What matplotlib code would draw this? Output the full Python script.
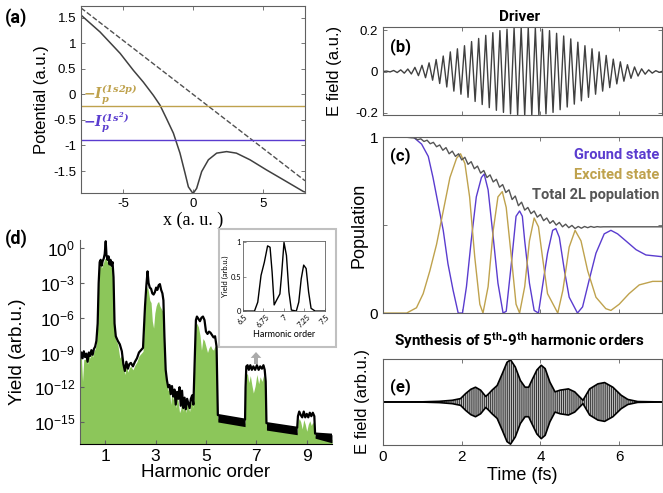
import numpy as np
import matplotlib
matplotlib.use('Agg')
import matplotlib.pyplot as plt
from matplotlib.patches import Rectangle

plt.rcParams['font.family'] = ['Liberation Sans', 'DejaVu Sans']
plt.rcParams['axes.unicode_minus'] = False
plt.rcParams['mathtext.fontset'] = 'custom'
plt.rcParams['mathtext.rm'] = 'Liberation Sans'
plt.rcParams['mathtext.it'] = 'Liberation Sans:italic'
plt.rcParams['mathtext.bf'] = 'Roboto:bold'
plt.rcParams['mathtext.bfit'] = 'DejaVu Serif:italic:bold'
plt.rcParams['hatch.linewidth'] = 0.7

NARROW = ['Roboto', 'DejaVu Sans']
purple = '#5a3ccf'
gold = '#bfa24d'

# ---- (a) potential ----
pot_x = [-8.0, -6.64, -5.2, -4.26, -3.55, -2.83, -2.36, -1.9, -1.4, -0.93, -0.57,
         -0.33, 0.0, 0.26, 0.62, 1.1, 1.69, 2.4, 3.1, 4.07, 5.26, 6.45, 7.88, 8.0]
pot_v = [1.55, 1.22, 0.80, 0.47, 0.24, -0.02, -0.21, -0.47, -0.76, -1.15, -1.54,
         -1.81, -1.94, -1.84, -1.51, -1.28, -1.15, -1.12, -1.15, -1.28, -1.48, -1.67, -1.90, -1.91]
field_x = [-8.0, 8.0]
field_v = [1.69, -1.69]
ip_1s2p = -0.22
ip_1s2 = -0.89

# ---- (b) driver: cycle centres and amplitudes ----
drv_tc = np.array([0.09, 0.27, 0.45, 0.63, 0.81, 0.99, 1.17, 1.35, 1.53, 1.71, 1.89, 2.07, 2.25,
                   2.43, 2.61, 2.79, 2.97, 3.15, 3.33, 3.51, 3.69, 3.87, 4.05, 4.23, 4.41, 4.59,
                   4.77, 4.95, 5.13, 5.31, 5.49, 5.67, 5.85, 6.03, 6.21, 6.39, 6.57, 6.75, 6.93, 7.11])
drv_amp = np.array([0.002, 0.005, 0.008, 0.012, 0.02, 0.03, 0.042, 0.058, 0.075, 0.095, 0.11,
                    0.125, 0.145, 0.16, 0.175, 0.188, 0.198, 0.205, 0.21, 0.213, 0.213, 0.21,
                    0.205, 0.198, 0.185, 0.172, 0.158, 0.142, 0.125, 0.11, 0.095, 0.078, 0.06,
                    0.047, 0.033, 0.022, 0.013, 0.008, 0.004, 0.002])
drv_half = 0.09

# ---- (c) populations ----
gs_t = [0, 0.77, 0.98, 1.15, 1.27, 1.40, 1.53, 1.65, 1.78, 1.91, 2.02, 2.12, 2.24, 2.37, 2.50,
        2.57, 2.67, 2.80, 2.92, 3.05, 3.13, 3.26, 3.38, 3.47, 3.54, 3.60, 3.72, 3.84, 3.95,
        4.05, 4.18, 4.31, 4.39, 4.48, 4.61, 4.73, 4.94, 5.07, 5.24, 5.41, 5.62, 5.79, 5.96,
        6.17, 6.43, 6.68, 7.1]
gs_p = [1.0, 1.0, 0.96, 0.89, 0.77, 0.62, 0.47, 0.28, 0.13, 0.0, 0.0, 0.15, 0.41, 0.66, 0.77,
        0.79, 0.70, 0.43, 0.17, 0.0, 0.01, 0.28, 0.55, 0.58, 0.55, 0.41, 0.17, 0.015, 0.0,
        0.15, 0.34, 0.47, 0.48, 0.43, 0.24, 0.09, 0.0, 0.035, 0.19, 0.34, 0.45, 0.47, 0.45,
        0.41, 0.36, 0.33, 0.32]
ex_t = [0, 0.6, 0.85, 1.02, 1.19, 1.36, 1.53, 1.70, 1.87, 1.97, 2.08, 2.20, 2.33, 2.46, 2.54,
        2.67, 2.80, 2.92, 3.03, 3.13, 3.26, 3.38, 3.47, 3.60, 3.72, 3.84, 3.95, 4.05, 4.18,
        4.44, 4.57, 4.73, 4.88, 5.03, 5.20, 5.41, 5.66, 5.79, 6.0, 6.25, 6.51, 6.85, 7.1]
ex_p = [0.0, 0.0, 0.03, 0.11, 0.24, 0.39, 0.58, 0.77, 0.88, 0.905, 0.85, 0.66, 0.32, 0.05, 0.0,
        0.15, 0.47, 0.66, 0.69, 0.60, 0.32, 0.05, 0.0, 0.15, 0.41, 0.54, 0.49, 0.32, 0.11,
        0.0, 0.13, 0.375, 0.47, 0.41, 0.24, 0.09, 0.025, 0.015, 0.05, 0.11, 0.16, 0.18, 0.18]
tot_step = 0.08
tot_p = [1.0, 1.0, 1.0, 1.0, 1.0, 1.0, 1.0, 1.0, 0.998, 0.996,
         0.995, 0.985, 0.99, 0.975, 0.982, 0.962, 0.97, 0.945, 0.955, 0.925,
         0.94, 0.905, 0.92, 0.89, 0.905, 0.87, 0.885, 0.845, 0.86, 0.82,
         0.835, 0.795, 0.81, 0.77, 0.785, 0.745, 0.76, 0.715, 0.73, 0.685,
         0.70, 0.645, 0.665, 0.61, 0.63, 0.585, 0.60, 0.565, 0.58, 0.545,
         0.56, 0.525, 0.54, 0.51, 0.525, 0.50, 0.515, 0.49, 0.505, 0.485,
         0.498, 0.48, 0.492, 0.482, 0.492, 0.485, 0.492, 0.487, 0.491, 0.489,
         0.49, 0.49, 0.49, 0.49, 0.49, 0.49, 0.49, 0.49, 0.49, 0.49,
         0.49, 0.49, 0.49, 0.49, 0.49, 0.49, 0.49, 0.49, 0.49, 0.49]

# ---- (d) HHG spectrum (log10 yield) ----
hh_order = [0.00, 0.05, 0.10, 0.15, 0.20, 0.25, 0.30, 0.35, 0.40, 0.45, 0.50, 0.55, 0.60, 0.65,
            0.70, 0.74, 0.78, 0.82, 0.86, 0.90, 0.94, 0.98, 1.02, 1.05, 1.09, 1.13, 1.17, 1.21,
            1.25, 1.29, 1.33, 1.37, 1.42, 1.50, 1.58, 1.66, 1.72, 1.78, 1.84, 1.90, 1.96, 2.02,
            2.10, 2.18, 2.26, 2.34, 2.42, 2.50, 2.58, 2.63, 2.68, 2.72, 2.77, 2.82, 2.87, 2.92,
            2.97, 3.02, 3.07, 3.12, 3.17, 3.22, 3.27, 3.31, 3.35, 3.40, 3.45, 3.50, 3.55, 3.60,
            3.65, 3.70, 3.75, 3.80, 3.85, 3.90, 3.95, 4.00, 4.05, 4.10, 4.15, 4.20, 4.25, 4.30,
            4.35, 4.40, 4.45, 4.50, 4.55, 4.60, 4.64, 4.70, 4.76, 4.82, 4.88, 4.94, 5.00, 5.06,
            5.12, 5.18, 5.24, 5.30, 5.36, 5.42, 5.47, 6.55, 6.57, 6.60, 6.65, 6.70, 6.76, 6.82,
            6.88, 6.95, 7.02, 7.09, 7.15, 7.22, 7.28, 7.33, 7.37, 7.40, 8.62, 8.65, 8.70, 8.76,
            8.82, 8.88, 8.94, 9.00, 9.06, 9.12, 9.18, 9.24, 9.30, 9.33, 10.0]
hh_black = [-9.6, -9.0, -9.5, -8.9, -9.4, -9.1, -9.8, -9.0, -9.3, -8.8, -9.2, -8.7, -8.5, -8.0,
            -6.5, -3.0, -1.2, -1.0, -1.5, -1.1, -0.9, -0.5, 0.6, -0.6, -1.0, -0.7, -1.4, -1.0,
            -1.5, -1.2, -2.5, -6.5, -7.6, -8.0, -8.3, -8.9, -10.0, -10.6, -9.8, -10.4, -10.0, -9.9,
            -10.2, -9.8, -9.5, -9.0, -8.8, -8.6, -5.0, -3.3, -2.0, -3.0, -3.4, -3.5, -3.9, -4.0,
            -3.8, -3.4, -3.6, -3.2, -3.1, -3.6, -3.9, -4.5, -7.6, -10.5, -11.4, -12.0, -11.8, -12.6,
            -11.9, -12.8, -12.2, -13.5, -12.4, -13.0, -12.0, -13.6, -12.3, -13.8, -12.9, -13.9, -13.0, -13.4,
            -13.8, -13.0, -12.7, -13.5, -10.0, -6.2, -5.9, -6.1, -6.3, -6.0, -5.9, -6.2, -7.2, -7.4,
            -7.2, -7.3, -7.5, -7.7, -7.6, -8.5, -14.4, -14.8, -12.0, -10.2, -10.1, -10.5, -10.1, -10.5,
            -10.2, -10.5, -10.1, -10.5, -10.2, -10.4, -10.1, -10.5, -11.5, -15.1, -15.5, -14.5, -14.1, -14.4,
            -14.6, -14.1, -14.6, -14.3, -14.6, -14.2, -14.5, -14.2, -14.5, -16.0, -16.1]
hh_green = [-9.8, -9.2, -11.5, -9.6, -9.6, -9.4, -10.0, -9.2, -9.5, -9.0, -9.4, -8.9, -8.7, -8.3,
            -6.8, -3.3, -1.5, -1.3, -1.7, -1.4, -1.2, -0.9, -0.9, -1.0, -1.2, -1.0, -1.6, -1.3,
            -1.7, -1.5, -2.8, -6.8, -7.9, -8.3, -9.5, -9.2, -10.3, -10.9, -10.1, -10.7, -10.3, -10.2,
            -10.5, -10.1, -9.8, -9.3, -9.1, -8.9, -5.3, -3.6, -3.3, -3.8, -4.5, -4.7, -6.3, -6.9,
            -5.6, -5.0, -4.7, -4.6, -5.0, -5.2, -5.4, -5.5, -8.0, -10.8, -11.7, -12.3, -12.1, -13.5,
            -12.2, -13.1, -12.5, -13.8, -12.7, -13.3, -14.2, -13.9, -12.6, -14.1, -13.2, -14.2, -13.3, -13.7,
            -14.1, -13.3, -13.0, -13.8, -10.3, -6.6, -6.5, -6.8, -7.5, -8.8, -7.8, -8.0, -8.5, -9.0,
            -8.6, -8.4, -8.7, -8.8, -8.4, -8.9, -14.7, -15.1, -12.3, -10.8, -10.9, -11.6, -11.0, -11.8,
            -12.5, -11.9, -10.9, -11.7, -11.1, -11.5, -11.0, -11.5, -12.0, -15.5, -15.9, -15.0, -14.7, -15.0,
            -15.6, -14.8, -15.2, -15.8, -15.2, -14.9, -15.3, -15.0, -15.4, -16.2, -16.5]
band_x = [[5.47, 6.55], [7.40, 8.62], [9.33, 10.0]]
band_hi = [[-14.4, -14.8], [-15.1, -15.5], [-16.0, -16.1]]
band_lo = [[-15.0, -15.4], [-15.7, -16.1], [-16.4, -16.8]]

# inset (normalised yield near H7)
ins_order = [6.5, 6.64, 6.68, 6.72, 6.76, 6.80, 6.83, 6.855, 6.88, 6.91, 6.95, 6.97, 7.0, 7.03,
             7.06, 7.09, 7.15, 7.18, 7.21, 7.24, 7.27, 7.30, 7.33, 7.38, 7.5]
ins_yield = [0.0, 0.0, 0.13, 0.52, 0.71, 0.95, 0.93, 0.57, 0.09, 0.16, 0.25, 0.52, 1.0, 0.81,
             0.28, 0.015, 0.0, 0.13, 0.47, 0.67, 0.62, 0.28, 0.04, 0.0, 0.0]

# ---- (e) synthesised field envelope ----
syn_t = [0, 1.0, 1.43, 1.76, 1.97, 2.10, 2.23, 2.35, 2.48, 2.61, 2.69, 2.77, 2.90, 3.03, 3.15,
         3.24, 3.36, 3.49, 3.61, 3.70, 3.78, 3.91, 4.02, 4.12, 4.24, 4.37, 4.50, 4.71, 4.87,
         5.08, 5.25, 5.46, 5.63, 5.84, 6.05, 6.22, 6.47, 7.1]
syn_env = [0, 0.003, 0.015, 0.04, 0.08, 0.2, 0.3, 0.35, 0.28, 0.13, 0.2, 0.28, 0.39, 0.67, 0.94,
           1.0, 0.83, 0.51, 0.35, 0.35, 0.51, 0.76, 0.87, 0.79, 0.47, 0.24, 0.28, 0.31, 0.24,
           0.04, 0.31, 0.43, 0.46, 0.35, 0.16, 0.06, 0.01, 0.0]

fig = plt.figure(figsize=(6.63, 4.93), dpi=100)


def matlab_box(ax, size=9.5):
    for s in ax.spines.values():
        s.set_color('#606060')
        s.set_linewidth(0.8)
    ax.tick_params(direction='in', top=True, right=True, length=3, width=0.6,
                   color='#606060', labelcolor='black', labelsize=size)


# (a)
ax_a = fig.add_axes([0.1222, 0.6085, 0.3378, 0.3795])
ax_a.plot(field_x, field_v, '--', color='#505050', lw=1.0)
ax_a.plot(pot_x, pot_v, color='#404040', lw=1.1)
ax_a.axhline(ip_1s2p, color=gold, lw=1.0)
ax_a.axhline(ip_1s2, color=purple, lw=1.0)
ax_a.set_xlim(-8, 8)
ax_a.set_ylim(-1.93, 1.73)
ax_a.set_xticks([-5, 0, 5])
ax_a.set_yticks([-1.5, -1, -0.5, 0, 0.5, 1, 1.5])
ax_a.set_yticklabels(['-1.5', '-1', '-0.5', '0', '0.5', '1', '1.5'])
matlab_box(ax_a)
ax_a.text(-7.85, 0.0, r'$\mathbfit{-I_p^{(1s2p)}}$', color=gold, fontsize=10, va='center')
ax_a.text(-7.85, -0.55, r'$\mathbfit{-I_p^{(1s^2)}}$', color=purple, fontsize=10, va='center')
ax_a.set_ylabel('Potential (a.u.)', fontsize=12, labelpad=3)
ax_a.set_xlabel('x (a. u. )', fontsize=13, family='Liberation Serif', labelpad=1)
fig.text(0.008, 0.965, '(a)', fontsize=13, fontweight='bold', family=NARROW, va='center')

# (b)
ax_b = fig.add_axes([0.5777, 0.767, 0.4215, 0.178])
vt = np.ravel(np.column_stack([drv_tc, drv_tc + drv_half]))
ve = np.ravel(np.column_stack([drv_amp, -drv_amp]))
ax_b.plot(np.r_[0, vt], np.r_[0, ve], color='#404040', lw=1.0)
ax_b.set_xlim(0, 7.1)
ax_b.set_ylim(-0.21, 0.215)
ax_b.set_yticks([-0.2, 0, 0.2])
ax_b.set_yticklabels(['-0.2', '0', '0.2'])
ax_b.set_xticks([2, 4, 6])
ax_b.set_xticklabels([])
matlab_box(ax_b)
ax_b.set_ylabel('E field (a.u.)', fontsize=12)
ax_b.yaxis.set_label_coords(-0.145, 0.5)
ax_b.text(0.025, 0.72, '(b)', transform=ax_b.transAxes, fontsize=12, fontweight='bold', family=NARROW)
fig.text(0.783, 0.965, 'Driver', fontsize=11, fontweight='bold', family=NARROW, ha='center', va='center')

# (c)
ax_c = fig.add_axes([0.5777, 0.365, 0.4215, 0.357])
ax_c.plot(gs_t, gs_p, color=purple, lw=1.0)
ax_c.plot(ex_t, ex_p, color=gold, lw=1.0)
ax_c.plot(np.arange(len(tot_p)) * tot_step, tot_p, color='#555555', lw=1.0)
ax_c.set_xlim(0, 7.1)
ax_c.set_ylim(0, 1)
ax_c.set_yticks([0, 0.5, 1])
ax_c.set_yticklabels(['0', '', '1'])
ax_c.set_xticks([2, 4, 6])
ax_c.set_xticklabels([])
matlab_box(ax_c, 11)
ax_c.set_ylabel('Population', fontsize=13, labelpad=0)
ax_c.yaxis.set_label_coords(-0.055, 0.5)
ax_c.text(0.025, 0.87, '(c)', transform=ax_c.transAxes, fontsize=12, fontweight='bold', family=NARROW)
for yy, txt, col in [(0.898, 'Ground state', purple), (0.784, 'Excited state', gold),
                     (0.67, 'Total 2L population', '#555555')]:
    ax_c.text(0.99, yy, txt, transform=ax_c.transAxes, ha='right', va='center', color=col,
              fontsize=10.5, fontweight='bold', family=NARROW)

# (e)
ax_e = fig.add_axes([0.5777, 0.0974, 0.4215, 0.1745])
syn_env = np.array(syn_env)
ax_e.fill_between(syn_t, -syn_env, syn_env, facecolor='#bdbdbd', edgecolor='#303030',
                  hatch='||||||||', lw=0)
ax_e.plot(syn_t, syn_env, color='black', lw=1.2)
ax_e.plot(syn_t, -syn_env, color='black', lw=1.2)
ax_e.set_xlim(0, 7.1)
ax_e.set_ylim(-1.02, 1.02)
ax_e.set_xticks([0, 2, 4, 6])
ax_e.set_yticks([])
matlab_box(ax_e, 11)
ax_e.set_xlabel('Time (fs)', fontsize=13, labelpad=2)
ax_e.set_ylabel('E field (arb.u.)', fontsize=12)
ax_e.yaxis.set_label_coords(-0.045, 0.5)
ax_e.text(0.025, 0.62, '(e)', transform=ax_e.transAxes, fontsize=12, fontweight='bold', family=NARROW)
fig.text(0.784, 0.31, r'Synthesis of 5$^{\mathbf{th}}$-9$^{\mathbf{th}}$ harmonic orders',
         fontsize=11, fontweight='bold', family=NARROW, ha='center', va='center')

# (d)
ax_d = fig.add_axes([0.1207, 0.0994, 0.38, 0.4136])
ybot = 10 ** -16.9
ax_d.fill_between(hh_order, 10 ** np.array(hh_green), ybot, color='#8cc65a', lw=0)
ax_d.plot(hh_order, 10 ** np.array(hh_black), color='black', lw=1.6)
for bx, bh, bl in zip(band_x, band_hi, band_lo):
    ax_d.fill_between(bx, 10 ** np.array(bl), 10 ** np.array(bh), color='black', lw=0)
ax_d.set_yscale('log')
ax_d.set_xlim(0, 10)
ax_d.set_ylim(ybot, 10 ** 0.7)
ax_d.set_yticks([10.0 ** k for k in [0, -3, -6, -9, -12, -15]])
ax_d.set_yticklabels([r'$\mathregular{10^{%d}}$' % k for k in [0, -3, -6, -9, -12, -15]])
ax_d.yaxis.set_minor_locator(matplotlib.ticker.NullLocator())
ax_d.set_xticks([1, 3, 5, 7, 9])
ax_d.spines['top'].set_visible(False)
ax_d.spines['right'].set_visible(False)
ax_d.spines['left'].set_color('#606060')
ax_d.tick_params(direction='in', length=3, labelsize=12.5, color='#606060')
ax_d.set_xlabel('Harmonic order', fontsize=13.5, labelpad=0)
ax_d.set_ylabel('Yield (arb.u.)', fontsize=13.5)
ax_d.yaxis.set_label_coords(-0.215, 0.45)
fig.text(0.008, 0.517, '(d)', fontsize=13, fontweight='bold', family=NARROW, va='center')

# inset box and axes
fig.add_artist(Rectangle((0.330, 0.296), 0.1765, 0.239, transform=fig.transFigure,
                         facecolor='white', edgecolor='#c0c0c0', lw=1.5, zorder=3))
ax_in = fig.add_axes([0.3665, 0.369, 0.1237, 0.142])
ax_in.set_zorder(5)
ax_in.plot(ins_order, ins_yield, color='black', lw=1.0)
ax_in.set_xlim(6.5, 7.5)
ax_in.set_ylim(0, 1.02)
ax_in.set_xticks([6.5, 6.75, 7, 7.25, 7.5])
ax_in.set_xticklabels(['6.5', '6.75', '7', '7.25', '7.5'], rotation=45)
ax_in.set_yticks([0, 0.5, 1])
ax_in.set_yticklabels(['0', '0.5', '1'])
for s in ax_in.spines.values():
    s.set_color('#606060')
    s.set_linewidth(0.6)
ax_in.tick_params(direction='in', length=2, width=0.5, labelsize=5.5, pad=1.5, color='#606060')
ax_in.set_xlabel('Harmonic order', fontsize=6.5, family=['Lato', 'DejaVu Sans'], labelpad=1)
ax_in.set_ylabel('Yield (arb.u.)', fontsize=5.5, family=['Lato', 'DejaVu Sans'], labelpad=1)
for lab in ax_in.get_xticklabels() + ax_in.get_yticklabels():
    lab.set_family(['Lato', 'DejaVu Sans'])
fig.add_artist(matplotlib.patches.FancyArrow(256 / 663, 1 - 364 / 493, 0, 12 / 493,
                                             width=0.006, head_width=0.016, head_length=0.012,
                                             length_includes_head=True, transform=fig.transFigure,
                                             color='#aaaaaa', lw=0, zorder=3))

fig.savefig('out.png', dpi=100)
